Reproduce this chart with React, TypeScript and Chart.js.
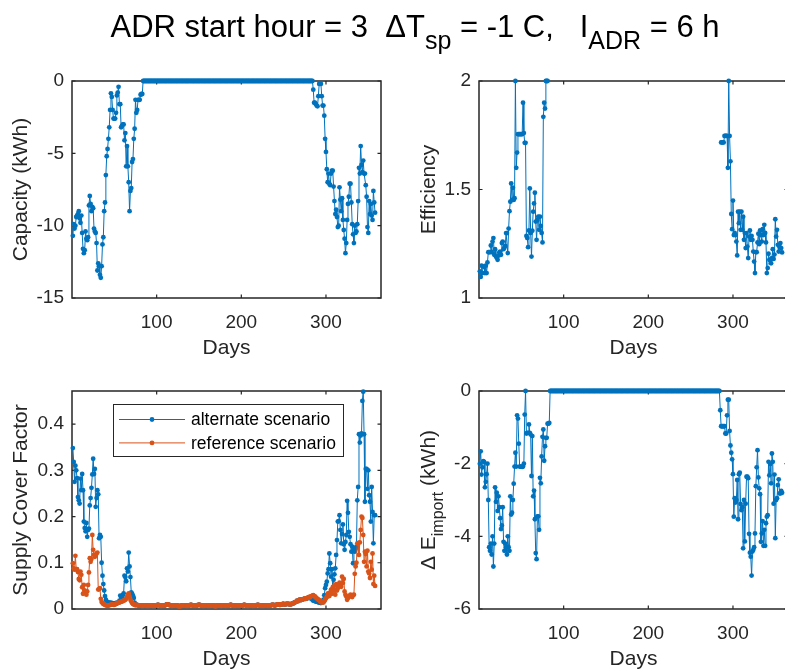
import React, { useEffect, useRef } from "react";
import { Chart, registerables } from "chart.js";

Chart.register(...registerables);

const FONT = '"Liberation Sans", Arial, Helvetica, sans-serif';
const AXIS_COLOR = "#262626";
const BLUE = "#0072BD";
const ORANGE = "#D95319";
const TICK_SIZE = 19;
const LABEL_SIZE = 21;
const SUB_SIZE = 16;
const SUB_DROP = 8;

// ---------------- tick labels ----------------
const dayTicks = [100, 200, 300];
const capacityTicks = [-15, -10, -5, 0];
const efficiencyTicks = [1, 1.5, 2];
const scfTicks = [0, 0.1, 0.2, 0.3, 0.4];
const deltaETicks = [-6, -4, -2, 0];

// ---------------- data (day-indexed segments) ----------------
const capWinterStart = 1;
const capWinter = [
  -10.7, -9.9, -10.2, -10.0, -9.4, -9.3, -9.2, -9.0, -9.5, -9.8,
  -9.3, -10.5, -11.6, -11.9, -11.7, -10.4, -10.9, -11.0, -10.8, -8.6,
  -7.95, -8.5, -9.0, -8.7, -8.8, -10.2, -10.4, -10.5, -11.2, -13.1,
  -12.6, -12.8, -13.4, -13.6, -12.8, -11.3, -10.8, -9.0, -8.4, -6.5,
  -5.2, -4.7, -4.0, -3.2, -2.0, -0.85, -1.1, -2.0, -2.6, -2.6,
  -2.6, -2.2, -1.0, -0.8, -0.4, -1.6, -1.6, -3.2, -3.1, -3.0,
  -3.0, -4.1, -3.6, -5.9, -4.5, -5.9, -7.0, -9.0, -7.6, -7.4,
  -5.6, -5.4, -4.0, -3.3, -1.3, -2.2, -2.0, -1.3, -1.3, -1.3,
  -0.95, -0.9, -0.9,
];

// summer days (84..284): no ADR capacity / no import change
const summerZeroStart = 84;
const summerZeros = [
  0, 0, 0, 0, 0, 0, 0, 0, 0, 0, 0, 0, 0, 0, 0, 0, 0, 0, 0, 0,
  0, 0, 0, 0, 0, 0, 0, 0, 0, 0, 0, 0, 0, 0, 0, 0, 0, 0, 0, 0,
  0, 0, 0, 0, 0, 0, 0, 0, 0, 0, 0, 0, 0, 0, 0, 0, 0, 0, 0, 0,
  0, 0, 0, 0, 0, 0, 0, 0, 0, 0, 0, 0, 0, 0, 0, 0, 0, 0, 0, 0,
  0, 0, 0, 0, 0, 0, 0, 0, 0, 0, 0, 0, 0, 0, 0, 0, 0, 0, 0, 0,
  0, 0, 0, 0, 0, 0, 0, 0, 0, 0, 0, 0, 0, 0, 0, 0, 0, 0, 0, 0,
  0, 0, 0, 0, 0, 0, 0, 0, 0, 0, 0, 0, 0, 0, 0, 0, 0, 0, 0, 0,
  0, 0, 0, 0, 0, 0, 0, 0, 0, 0, 0, 0, 0, 0, 0, 0, 0, 0, 0, 0,
  0, 0, 0, 0, 0, 0, 0, 0, 0, 0, 0, 0, 0, 0, 0, 0, 0, 0, 0, 0,
  0, 0, 0, 0, 0, 0, 0, 0, 0, 0, 0, 0, 0, 0, 0, 0, 0, 0, 0, 0,
  0,
];

const capAutumnStart = 285;
const capAutumn = [
  -0.6, -1.5, -1.5, -1.6, -1.7, -1.75, -1.05, -0.2, -0.15, -0.2,
  -1.05, -1.7, -1.7, -2.4, -4.0, -4.9, -6.1, -7.0, -6.4, -7.1,
  -7.2, -6.4, -6.2, -6.2, -7.3, -8.3, -9.2, -8.9, -9.4, -10.1,
  -10.0, -7.35, -8.2, -9.0, -8.1, -9.6, -10.3, -10.9, -11.9, -11.2,
  -9.6, -8.5, -8.0, -7.1, -7.1, -8.4, -9.9, -10.6, -11.2, -10.0,
  -10.5, -10.4, -9.9, -8.3, -6.0, -6.4, -4.5, -5.8, -6.3, -5.5,
  -6.4, -6.4, -7.2, -8.0, -10.1, -10.5, -8.3, -9.2, -8.5, -9.3,
  -9.6, -7.6, -8.4, -9.1,
];

const effWinterStart = 1;
const effWinter = [
  1.123, 1.097, 1.149, 1.115, 1.145, 1.145, 1.115, 1.149, 1.115, 1.164,
  1.211, 1.211, 1.211, 1.242, 1.211, 1.26, 1.276, 1.199, 1.225, 1.191,
  1.185, 1.176, 1.195, 1.21, 1.214, 1.199, 1.253, 1.26, 1.225, 1.232,
  1.24, 1.299, 1.299, 1.207, 1.32, 1.4, 1.444, 1.528, 1.452, 1.508,
  1.452, 1.46, 2.0, 1.6, 1.67, 1.755, 1.755, 1.755, 1.755, 1.755,
  1.755, 1.9, 1.76, 1.715, 1.715, 1.286, 1.276, 1.234, 1.311, 1.505,
  1.3, 1.191, 1.31, 1.398, 1.436, 1.485, 1.352, 1.268, 1.36, 1.375,
  1.314, 1.375, 1.332, 1.3, 1.256, 1.835, 1.9, 1.873, 2.0, 2.0,
  2.0,
];
const effGapDay = 82; // efficiency undefined while capacity is zero
const effAutumnStart = 286;
const effAutumn = [
  1.717, 1.717, 1.717, 1.717, 1.747, 1.747, 1.747, 1.747, 1.6, 2.0,
  1.747, 1.63, 1.387, 1.317, 1.449, 1.29, 1.3, 1.29, 1.26, 1.196,
  1.398, 1.345, 1.398, 1.314, 1.398, 1.314, 1.375, 1.268, 1.299, 1.23,
  1.299, 1.237, 1.184, 1.283, 1.311, 1.268, 1.286, 1.268, 1.214, 1.168,
  1.115, 1.211, 1.211, 1.256, 1.296, 1.248, 1.311, 1.29, 1.26, 1.317,
  1.29, 1.337, 1.3, 1.256, 1.115, 1.138, 1.204, 1.176, 1.176, 1.16,
  1.184, 1.225, 1.18, 1.2, 1.363, 1.283, 1.314, 1.245, 1.214, 1.235,
  1.253, 1.23, 1.21,
];

const scfWinterStart = 1;
const scfAltWinter = [
  0.348, 0.318, 0.275, 0.31, 0.3, 0.283, 0.242, 0.235, 0.228, 0.282,
  0.257, 0.292, 0.257, 0.189, 0.175, 0.168, 0.186, 0.156, 0.171, 0.174,
  0.224, 0.24, 0.262, 0.291, 0.325, 0.292, 0.303, 0.221, 0.24, 0.257,
  0.248, 0.153, 0.16, 0.156, 0.1, 0.072, 0.054, 0.04, 0.028, 0.02,
  0.016, 0.015, 0.014, 0.014, 0.013, 0.013, 0.013, 0.012, 0.012, 0.012,
  0.012, 0.013, 0.013, 0.013, 0.014, 0.018, 0.029, 0.026, 0.024, 0.03,
  0.034, 0.072, 0.069, 0.06, 0.088, 0.081, 0.122, 0.092, 0.069, 0.036,
  0.033, 0.029, 0.024, 0.014, 0.01,
];
const scfRefWinter = [
  0.099, 0.088, 0.085, 0.115, 0.086, 0.086, 0.08, 0.065, 0.062, 0.081,
  0.074, 0.047, 0.033, 0.052, 0.04, 0.036, 0.031, 0.038, 0.052, 0.079,
  0.11, 0.102, 0.108, 0.16, 0.128, 0.117, 0.113, 0.117, 0.12, 0.122,
  0.042, 0.043, 0.045, 0.022, 0.015, 0.013, 0.011, 0.01, 0.009, 0.008,
  0.008, 0.007, 0.008, 0.008, 0.009, 0.009, 0.01, 0.01, 0.009, 0.009,
  0.01, 0.011, 0.012, 0.013, 0.014, 0.014, 0.015, 0.016, 0.016, 0.017,
  0.018, 0.019, 0.02, 0.022, 0.026, 0.031, 0.034, 0.027, 0.02, 0.016,
  0.013, 0.011, 0.01, 0.009, 0.008,
];
// summer: both scenarios coincide
const scfSummerStart = 76;
const scfSummer = [
  0.009, 0.009, 0.008, 0.008, 0.008, 0.008, 0.007, 0.007, 0.007, 0.008,
  0.008, 0.008, 0.007, 0.007, 0.007, 0.007, 0.008, 0.008, 0.008, 0.007,
  0.007, 0.007, 0.007, 0.008, 0.008, 0.009, 0.009, 0.008, 0.008, 0.007,
  0.007, 0.007, 0.007, 0.008, 0.008, 0.009, 0.01, 0.01, 0.009, 0.009,
  0.008, 0.008, 0.007, 0.007, 0.007, 0.007, 0.008, 0.008, 0.007, 0.007,
  0.006, 0.006, 0.006, 0.007, 0.007, 0.007, 0.008, 0.008, 0.008, 0.007,
  0.007, 0.007, 0.008, 0.008, 0.009, 0.009, 0.008, 0.008, 0.008, 0.007,
  0.007, 0.008, 0.008, 0.009, 0.009, 0.009, 0.008, 0.008, 0.007, 0.007,
  0.007, 0.008, 0.008, 0.008, 0.007, 0.007, 0.007, 0.007, 0.008, 0.008,
  0.008, 0.007, 0.007, 0.006, 0.006, 0.007, 0.007, 0.008, 0.008, 0.007,
  0.007, 0.007, 0.008, 0.008, 0.008, 0.007, 0.007, 0.007, 0.008, 0.008,
  0.008, 0.009, 0.009, 0.008, 0.008, 0.007, 0.007, 0.007, 0.008, 0.008,
  0.008, 0.008, 0.007, 0.007, 0.007, 0.008, 0.008, 0.009, 0.009, 0.008,
  0.008, 0.007, 0.007, 0.007, 0.008, 0.008, 0.008, 0.007, 0.007, 0.007,
  0.007, 0.008, 0.008, 0.009, 0.009, 0.008, 0.008, 0.007, 0.007, 0.007,
  0.007, 0.007, 0.008, 0.008, 0.008, 0.007, 0.007, 0.007, 0.008, 0.008,
  0.009, 0.009, 0.009, 0.008, 0.008, 0.009, 0.009, 0.01, 0.01, 0.009,
  0.009, 0.01, 0.01, 0.011, 0.011, 0.01, 0.01, 0.011, 0.011, 0.011,
  0.011, 0.01, 0.01, 0.011, 0.011, 0.012, 0.013,
];
const scfAutumnStart = 263;
const scfAltAutumn = [
  0.014, 0.015, 0.016, 0.018, 0.017, 0.019, 0.02, 0.019, 0.02, 0.021,
  0.021, 0.022, 0.022, 0.022, 0.023, 0.023, 0.024, 0.024, 0.024, 0.023,
  0.022, 0.02,
  0.018, 0.018, 0.017, 0.016, 0.016, 0.015, 0.015, 0.014, 0.014, 0.013,
  0.014, 0.016, 0.02, 0.03, 0.045, 0.052, 0.059, 0.077, 0.086, 0.12,
  0.099, 0.07, 0.086, 0.042, 0.063, 0.075, 0.088, 0.117, 0.149, 0.189,
  0.19, 0.203, 0.171, 0.142, 0.162, 0.183, 0.14, 0.128, 0.145, 0.16,
  0.234, 0.208, 0.167, 0.156, 0.14, 0.124, 0.135, 0.099, 0.131, 0.124,
  0.13, 0.135, 0.235, 0.264, 0.378, 0.36, 0.375, 0.38, 0.45, 0.47,
  0.378, 0.232, 0.303, 0.303, 0.26, 0.3, 0.246, 0.232, 0.189, 0.264,
  0.21, 0.142, 0.203, 0.203,
];
const scfRefAutumn = [
  0.014, 0.015, 0.016, 0.018, 0.017, 0.019, 0.02, 0.019, 0.02, 0.021,
  0.021, 0.022, 0.023, 0.022, 0.023, 0.024, 0.025, 0.026, 0.025, 0.027,
  0.028, 0.029,
  0.03, 0.028, 0.027, 0.025, 0.023, 0.022, 0.02, 0.019, 0.017, 0.015,
  0.014, 0.016, 0.014, 0.017, 0.02, 0.023, 0.026, 0.033, 0.034, 0.028,
  0.036, 0.042, 0.033, 0.047, 0.049, 0.04, 0.031, 0.054, 0.04, 0.045,
  0.051, 0.057, 0.05, 0.048, 0.07, 0.056, 0.065, 0.038, 0.031, 0.027,
  0.02, 0.024, 0.026, 0.029, 0.031, 0.028, 0.026, 0.03, 0.031, 0.076,
  0.092, 0.1, 0.142, 0.143, 0.117, 0.144, 0.171, 0.2, 0.197, 0.16,
  0.102, 0.124, 0.119, 0.092, 0.126, 0.081, 0.077, 0.067, 0.102, 0.085,
  0.12, 0.054, 0.072, 0.05,
];

const dEWinterStart = 1;
const dEWinter = [
  -2.0, -1.66, -2.3, -2.1, -1.93, -1.95, -2.65, -2.5, -2.29, -2.0,
  -3.0, -4.3, -4.4, -4.2, -4.5, -4.0, -4.83, -4.2, -2.65, -3.05,
  -2.8, -3.3, -2.9, -3.2, -3.5, -3.8, -3.7, -3.2, -4.15, -4.4,
  -4.2, -4.3, -4.5, -4.0, -4.3, -4.4, -2.9, -3.4, -3.35, -3.0,
  -2.55, -2.08, -1.7, -2.08, -0.67, -0.76, -1.45, -2.08, -2.08, -2.08,
  -2.09, -2.08, -2.0, -0.65, 0, -1.17, -1.15, -1.15, -0.92, -1.15,
  -1.2, -2.34, -1.24, -2.9, -2.74, -3.53, -4.46, -4.63, -3.45, -3.45,
  -3.82, -2.39, -2.54, -1.8, -1.26, -1.06, -1.92, -1.52, -1.29, -1.29,
  -0.9, -0.9, -0.88,
];
const dEAutumnStart = 285;
const dEAutumn = [
  -0.53, -0.97, -0.97, -0.97, -0.97, -0.97, -1.17, -1.17, -0.67, -0.24,
  -0.24, -1.1, -1.5, -1.7, -1.88, -2.29, -3.46, -2.95, -3.07, -3.0,
  -2.45, -3.53, -2.29, -2.25, -3.11, -3.28, -3.2, -4.33, -3.0, -4.14,
  -3.1, -2.36, -2.36, -2.4, -3.93, -4.45, -4.56, -5.08, -4.42, -4.37,
  -4.3, -3.92, -2.62, -2.1, -1.63, -2.38, -2.68, -2.84, -4.15, -3.92,
  -3.58, -4.26, -3.82, -4.26, -3.64, -3.46, -3.42, -1.95, -2.32, -2.01,
  -2.54, -1.72, -1.95, -3.1, -2.3, -4.05, -3.0, -2.95, -2.59, -2.43,
  -2.82, -2.82, -2.75, -2.8,
];

// ---------------- helpers ----------------
type Pt = { x: number; y: number | null };
function seg(startDay: number, values: (number | null)[]): Pt[] {
  return values.map((v, i) => ({ x: startDay + i, y: v }));
}

type Part = { text: string; sub?: boolean };

type DS = { label: string; color: string; data: Pt[]; order: number };
type Panel = {
  box: [number, number, number, number]; // left, top, right, bottom
  yMin: number;
  yMax: number;
  yTicks: number[];
  ylabel: Part[];
  ylabelX: number;
  datasets: DS[];
  legend?: boolean;
};

const CW = 800;
const CH = 670;
const Y_AXIS_W = 60;
const X_AXIS_H = 40;

const PANELS: Panel[] = [
  {
    box: [72, 81, 381, 298],
    yMin: -15,
    yMax: 0,
    yTicks: capacityTicks,
    ylabel: [{ text: "Capacity (kWh)" }],
    ylabelX: 27,
    datasets: [
      {
        label: "Capacity",
        color: BLUE,
        order: 1,
        data: [
          ...seg(capWinterStart, capWinter),
          ...seg(summerZeroStart, summerZeros),
          ...seg(capAutumnStart, capAutumn),
        ],
      },
    ],
  },
  {
    box: [479, 81, 788, 298],
    yMin: 1,
    yMax: 2,
    yTicks: efficiencyTicks,
    ylabel: [{ text: "Efficiency" }],
    ylabelX: 435,
    datasets: [
      {
        label: "Efficiency",
        color: BLUE,
        order: 1,
        data: [
          ...seg(effWinterStart, effWinter),
          { x: effGapDay, y: null },
          ...seg(effAutumnStart, effAutumn),
        ],
      },
    ],
  },
  {
    box: [72, 391, 381, 609],
    yMin: 0,
    yMax: 0.4715,
    yTicks: scfTicks,
    ylabel: [{ text: "Supply Cover Factor" }],
    ylabelX: 27,
    legend: true,
    datasets: [
      {
        label: "alternate scenario",
        color: BLUE,
        order: 2,
        data: [
          ...seg(scfWinterStart, scfAltWinter),
          ...seg(scfSummerStart, scfSummer),
          ...seg(scfAutumnStart, scfAltAutumn),
        ],
      },
      {
        label: "reference scenario",
        color: ORANGE,
        order: 1,
        data: [
          ...seg(scfWinterStart, scfRefWinter),
          ...seg(scfSummerStart, scfSummer),
          ...seg(scfAutumnStart, scfRefAutumn),
        ],
      },
    ],
  },
  {
    box: [479, 391, 788, 609],
    yMin: -6,
    yMax: 0,
    yTicks: deltaETicks,
    ylabel: [{ text: "\u0394 E" }, { text: "import", sub: true }, { text: " (kWh)" }],
    ylabelX: 435,
    datasets: [
      {
        label: "Delta E import",
        color: BLUE,
        order: 1,
        data: [
          ...seg(dEWinterStart, dEWinter),
          ...seg(summerZeroStart, summerZeros),
          ...seg(dEAutumnStart, dEAutumn),
        ],
      },
    ],
  },
];

// ---------------- MATLAB-style axes plugin ----------------
const matlabAxes = {
  id: "matlabAxes",
  beforeDatasetsDraw(chart: any) {
    const { ctx, chartArea: a, scales } = chart;
    ctx.save();
    ctx.strokeStyle = AXIS_COLOR;
    ctx.lineWidth = 1.5;
    ctx.strokeRect(a.left, a.top, a.right - a.left, a.bottom - a.top);
    const tl = 3.5;
    ctx.lineWidth = 1.2;
    ctx.beginPath();
    scales.x.ticks.forEach((t: any) => {
      const px = scales.x.getPixelForValue(t.value);
      ctx.moveTo(px, a.bottom);
      ctx.lineTo(px, a.bottom - tl);
      ctx.moveTo(px, a.top);
      ctx.lineTo(px, a.top + tl);
    });
    scales.y.ticks.forEach((t: any) => {
      const py = scales.y.getPixelForValue(t.value);
      ctx.moveTo(a.left, py);
      ctx.lineTo(a.left + tl, py);
      ctx.moveTo(a.right, py);
      ctx.lineTo(a.right - tl, py);
    });
    ctx.stroke();
    ctx.restore();
  },
  afterDraw(chart: any, _args: any, opts: any) {
    const { ctx, chartArea: a } = chart;
    // x label
    ctx.save();
    ctx.fillStyle = AXIS_COLOR;
    ctx.textBaseline = "alphabetic";
    ctx.textAlign = "center";
    ctx.font = `${LABEL_SIZE}px ${FONT}`;
    ctx.fillText(opts.xlabel, (a.left + a.right) / 2, a.bottom + opts.xlabelOffset);
    ctx.restore();

    // y label (rotated, with optional subscript)
    const parts: Part[] = opts.ylabel;
    const fontFor = (p: Part) => `${p.sub ? SUB_SIZE : LABEL_SIZE}px ${FONT}`;
    ctx.save();
    let total = 0;
    const widths = parts.map((p) => {
      ctx.font = fontFor(p);
      const w = ctx.measureText(p.text).width;
      total += w;
      return w;
    });
    ctx.fillStyle = AXIS_COLOR;
    ctx.textBaseline = "alphabetic";
    ctx.textAlign = "left";
    ctx.translate(opts.ylabelX, (a.top + a.bottom) / 2);
    ctx.rotate(-Math.PI / 2);
    let x = -total / 2;
    parts.forEach((p, i) => {
      ctx.font = fontFor(p);
      ctx.fillText(p.text, x, p.sub ? SUB_DROP : 0);
      x += widths[i];
    });
    ctx.restore();

    // legend
    if (opts.legend) {
      const lg = opts.legend;
      const lx = a.left + lg.dx;
      const ly = a.top + lg.dy;
      ctx.save();
      ctx.fillStyle = "#ffffff";
      ctx.fillRect(lx, ly, lg.w, lg.h);
      ctx.strokeStyle = AXIS_COLOR;
      ctx.lineWidth = 1;
      ctx.strokeRect(lx + 0.5, ly + 0.5, lg.w, lg.h);
      chart.data.datasets.forEach((ds: any, i: number) => {
        const y = ly + lg.firstRow + i * lg.rowGap;
        ctx.strokeStyle = ds.borderColor;
        ctx.lineWidth = 1;
        ctx.beginPath();
        ctx.moveTo(lx + 6, y);
        ctx.lineTo(lx + 72, y);
        ctx.stroke();
        ctx.fillStyle = ds.borderColor;
        ctx.beginPath();
        ctx.arc(lx + 39, y, 2.4, 0, Math.PI * 2);
        ctx.fill();
        ctx.fillStyle = "#000000";
        ctx.font = `17.5px ${FONT}`;
        ctx.textBaseline = "middle";
        ctx.textAlign = "left";
        ctx.fillText(ds.label, lx + 78, y + 1);
      });
      ctx.restore();
    }
  },
};

function makeConfig(p: Panel): any {
  const [L, T, R, B] = p.box;
  return {
    type: "line",
    data: {
      datasets: p.datasets.map((d) => ({
        label: d.label,
        data: d.data,
        order: d.order,
        borderColor: d.color,
        backgroundColor: d.color,
        pointBackgroundColor: d.color,
        borderWidth: 1,
        pointRadius: 2.4,
        pointBorderWidth: 0,
        pointHoverRadius: 0,
        tension: 0,
        spanGaps: false,
        clip: 4,
      })),
    },
    options: {
      responsive: false,
      animation: false,
      events: [],
      layout: {
        padding: { left: L - Y_AXIS_W, top: T, right: CW - R, bottom: CH - B - X_AXIS_H },
      },
      plugins: {
        legend: { display: false },
        tooltip: { enabled: false },
        matlabAxes: {
          xlabel: "Days",
          xlabelOffset: 56,
          ylabel: p.ylabel,
          ylabelX: p.ylabelX,
          legend: p.legend
            ? { dx: 41, dy: 13, w: 230, h: 52, firstRow: 15.5, rowGap: 23.4 }
            : null,
        },
      },
      scales: {
        x: {
          type: "linear",
          min: 0,
          max: 365,
          grid: { display: false, drawTicks: false },
          border: { display: false },
          afterBuildTicks: (s: any) => {
            s.ticks = dayTicks.map((v) => ({ value: v }));
          },
          afterFit: (s: any) => {
            s.height = X_AXIS_H;
          },
          ticks: {
            color: AXIS_COLOR,
            font: { family: FONT, size: TICK_SIZE },
            padding: 13,
            maxRotation: 0,
            autoSkip: false,
            callback: (v: any) => String(v),
          },
        },
        y: {
          type: "linear",
          min: p.yMin,
          max: p.yMax,
          grid: { display: false, drawTicks: false },
          border: { display: false },
          afterBuildTicks: (s: any) => {
            s.ticks = p.yTicks.map((v) => ({ value: v }));
          },
          afterFit: (s: any) => {
            s.width = Y_AXIS_W;
          },
          ticks: {
            color: AXIS_COLOR,
            font: { family: FONT, size: TICK_SIZE },
            padding: 8,
            autoSkip: false,
            callback: (v: any) => String(v),
          },
        },
      },
    },
    plugins: [matlabAxes],
  };
}

export default function App() {
  const canvases = useRef<(HTMLCanvasElement | null)[]>([]);

  useEffect(() => {
    const charts = PANELS.map((p, i) => new Chart(canvases.current[i] as HTMLCanvasElement, makeConfig(p)));
    return () => charts.forEach((c) => c.destroy());
  }, []);

  const subStyle: React.CSSProperties = { fontSize: 25, position: "relative", top: 12 };

  return (
    <div
      style={{
        position: "fixed",
        left: 0,
        top: 0,
        width: 785,
        height: 670,
        overflow: "hidden",
        background: "#ffffff",
      }}
    >
      {PANELS.map((_, i) => (
        <canvas
          key={i}
          ref={(el) => {
            canvases.current[i] = el;
          }}
          width={CW}
          height={CH}
          style={{ position: "absolute", left: 0, top: 0, width: CW, height: CH }}
        />
      ))}
      <div
        style={{
          position: "absolute",
          left: 0,
          top: 11,
          width: 830,
          textAlign: "center",
          fontFamily: FONT,
          fontSize: 31,
          lineHeight: "31px",
          whiteSpace: "pre",
          color: "#000000",
          zIndex: 2,
        }}
      >
        {"ADR start hour = 3  \u0394T"}
        <span style={subStyle}>sp</span>
        {" = -1 C,   I"}
        <span style={subStyle}>ADR</span>
        {" = 6 h"}
      </div>
    </div>
  );
}
